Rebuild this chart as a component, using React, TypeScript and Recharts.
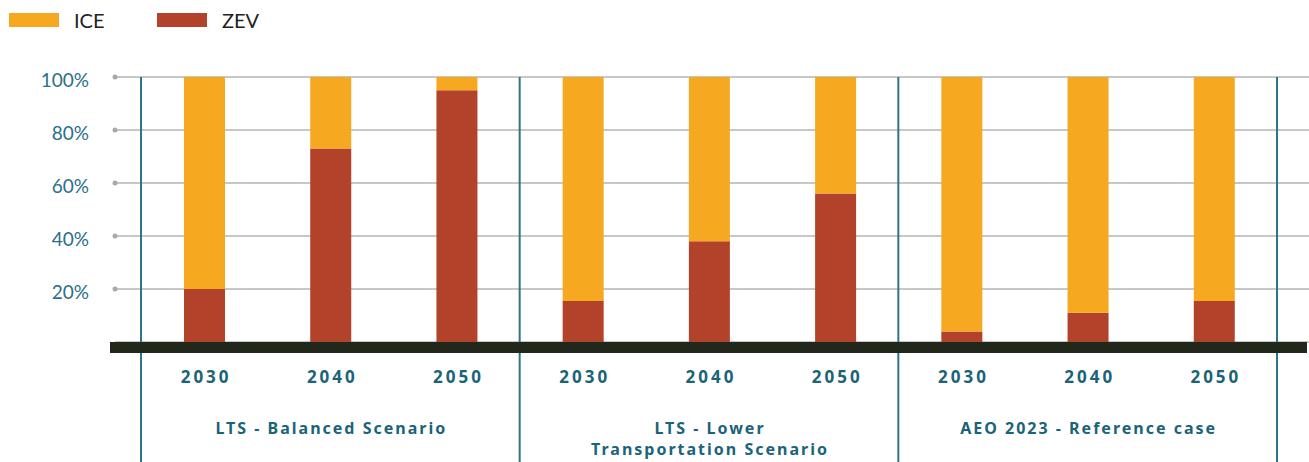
import { BarChart, Bar, XAxis, YAxis, CartesianGrid, Legend, ReferenceLine } from 'recharts';

const years = ['2030', '2040', '2050'];
const scenarios = [
  ['LTS - Balanced Scenario'],
  ['LTS - Lower', 'Transportation Scenario'],
  ['AEO 2023 - Reference case'],
];
const zevShare = [20, 73, 95, 15.5, 38, 56, 4, 11, 15.5];
const iceShare = [80, 27, 5, 84.5, 62, 44, 96, 89, 84.5];
const yTicks = [20, 40, 60, 80, 100];

const ICE_COLOR = '#f6a821';
const ZEV_COLOR = '#b3422a';
const TEAL = '#1b6379';
const LABEL_FONT = 'Lato, "Open Sans", sans-serif';
const CAT_FONT = '"Noto Sans", "DejaVu Sans", sans-serif';

const data = scenarios.flatMap((lines, gi) =>
  years.map((year, yi) => ({
    key: `${gi}-${year}`,
    year,
    lines,
    middle: yi === 1,
    zev: zevShare[gi * 3 + yi],
    ice: iceShare[gi * 3 + yi],
  }))
);

// a separator before each scenario group, plus one closing the last group
const separators = [
  ...scenarios.map((_, gi) => ({ key: `${gi}-${years[0]}`, position: 'start' as const })),
  { key: `${scenarios.length - 1}-${years[years.length - 1]}`, position: 'end' as const },
];

const YTick = (props: any) => {
  const { x, y, payload } = props;
  return (
    <g>
      <circle cx={x + 26} cy={y} r={2.5} fill="#a9a9a9" />
      <text x={x} y={y} dy={10} textAnchor="end" fill="#2a7088" fontSize={19} fontFamily={LABEL_FONT}>
        {payload.value}%
      </text>
    </g>
  );
};

const XTick = (props: any) => {
  const { x, y, payload } = props;
  const row = data.find((d) => d.key === payload.value);
  if (!row) return null;
  return (
    <g>
      <text x={x + 2} y={y + 41} textAnchor="middle" fill={TEAL} fontSize={17} fontWeight={700}
        fontFamily={CAT_FONT} letterSpacing={3}>
        {row.year}
      </text>
      {row.middle &&
        row.lines.map((line, li) => (
          <text key={li} x={x + 1} y={y + 92 + li * 21} textAnchor="middle" fill={TEAL} fontSize={16}
            fontWeight={700} fontFamily={CAT_FONT} letterSpacing={2}>
            {line}
          </text>
        ))}
    </g>
  );
};

const LegendContent = () => (
  <div style={{ display: 'flex', paddingTop: 9, paddingLeft: 9, height: 21, fontFamily: LABEL_FONT }}>
    {[
      { name: 'ICE', color: ICE_COLOR },
      { name: 'ZEV', color: ZEV_COLOR },
    ].map((item) => (
      <div key={item.name} style={{ display: 'flex', alignItems: 'center', width: 148 }}>
        <div style={{ width: 50, height: 14, background: item.color, marginRight: 15 }} />
        <span style={{ fontSize: 20, color: '#222', lineHeight: '14px' }}>{item.name}</span>
      </div>
    ))}
  </div>
);

export default function App() {
  return (
    <div style={{ position: 'absolute', left: 0, top: 0 }}>
      <BarChart width={1309} height={462} data={data} margin={{ top: 47, right: 0, left: 0, bottom: 0 }}>
        <Legend
          verticalAlign="top"
          align="left"
          wrapperStyle={{ top: 0, left: 0, height: 30, width: 400 }}
          content={<LegendContent />}
        />
        <CartesianGrid vertical={false} stroke="#b5b5b5" strokeWidth={1.5} />
        <XAxis
          dataKey="key"
          height={120}
          axisLine={false}
          tickLine={false}
          tickSize={0}
          tickMargin={0}
          interval={0}
          padding={{ left: 26, right: 32 }}
          tick={<XTick />}
        />
        <YAxis
          width={115}
          domain={[0, 100]}
          ticks={yTicks}
          axisLine={false}
          tickLine={false}
          tickSize={0}
          tickMargin={26}
          tick={<YTick />}
        />
        <Bar dataKey="zev" name="ZEV" stackId="a" fill={ZEV_COLOR} barSize={41} isAnimationActive={false} />
        <Bar dataKey="ice" name="ICE" stackId="a" fill={ICE_COLOR} barSize={41} isAnimationActive={false} />
        {separators.map((s) => (
          <ReferenceLine
            key={s.key + s.position}
            x={s.key}
            position={s.position}
            shape={(p: any) => (
              <line
                x1={p.x1}
                x2={p.x2}
                y1={Math.min(p.y1, p.y2)}
                y2={Math.max(p.y1, p.y2) + 120}
                stroke="#2f7489"
                strokeWidth={2}
              />
            )}
          />
        ))}
        <ReferenceLine
          y={0}
          shape={(p: any) => (
            <rect x={Math.min(p.x1, p.x2) - 5} y={p.y1} width={Math.abs(p.x2 - p.x1) + 3} height={11} fill="#22271c" />
          )}
        />
      </BarChart>
    </div>
  );
}
